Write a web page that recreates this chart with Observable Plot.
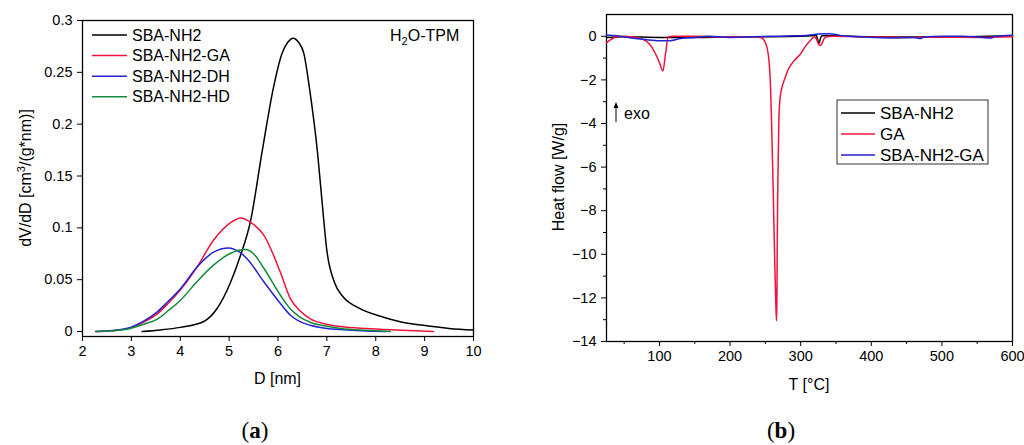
<!DOCTYPE html>
<html><head><meta charset="utf-8">
<script src="https://cdn.jsdelivr.net/npm/d3@7"></script>
<script src="https://cdn.jsdelivr.net/npm/@observablehq/plot@0.6"></script>
<style>
body{margin:0;background:#fff;}
#wrap{position:relative;width:1024px;height:445px;overflow:hidden;}
#wrap svg{position:absolute;top:0;}
</style></head><body><div id="wrap"></div>
<script>
// ---------- Panel (a): pore size distribution ----------
const seriesA = ["SBA-NH2", "SBA-NH2-GA", "SBA-NH2-DH", "SBA-NH2-HD"];
const colorsA = ["#000000", "#f0143c", "#2323d2", "#138a3c"];
const dNH2 = [3.22, 3.6, 4.0, 4.48, 4.75, 5.03, 5.23, 5.44, 5.67, 5.91, 6.08, 6.2, 6.31, 6.42, 6.53, 6.64, 6.81, 6.9, 7.0, 7.15, 7.34, 7.62, 8.16, 8.5, 8.97, 9.5, 10.0];
const vNH2 = [0, 0.0015, 0.004, 0.0097, 0.022, 0.0476, 0.073, 0.107, 0.172, 0.236, 0.268, 0.279, 0.283, 0.279, 0.268, 0.236, 0.172, 0.126, 0.078, 0.048, 0.033, 0.0235, 0.0138, 0.0095, 0.006, 0.003, 0.0015];
const dGA = [2.27, 2.6, 2.98, 3.25, 3.53, 3.75, 4.0, 4.34, 4.68, 5.03, 5.24, 5.45, 5.71, 6.05, 6.25, 6.45, 6.66, 6.95, 7.28, 7.8, 8.3, 8.8, 9.18];
const vGA = [0, 0.0008, 0.0035, 0.009, 0.017, 0.027, 0.040, 0.062, 0.088, 0.105, 0.1095, 0.105, 0.093, 0.057, 0.032, 0.02, 0.0122, 0.0075, 0.0048, 0.0028, 0.0016, 0.0008, 0];
const dDH = [2.27, 2.6, 2.98, 3.25, 3.53, 3.75, 4.0, 4.34, 4.68, 4.99, 5.2, 5.37, 5.71, 6.05, 6.25, 6.45, 6.66, 7.0, 7.28, 7.7, 8.2];
const vDH = [0, 0.0009, 0.004, 0.010, 0.019, 0.029, 0.041, 0.062, 0.0765, 0.0806, 0.077, 0.070, 0.048, 0.027, 0.016, 0.0095, 0.006, 0.003, 0.002, 0.0008, 0];
const dHD = [2.3, 2.6, 2.98, 3.25, 3.53, 3.75, 4.0, 4.34, 4.68, 5.03, 5.2, 5.33, 5.5, 5.71, 6.05, 6.25, 6.45, 6.66, 7.0, 7.28, 7.8, 8.3];
const vHD = [0, 0.0007, 0.003, 0.007, 0.012, 0.02, 0.030, 0.048, 0.064, 0.0755, 0.0785, 0.079, 0.075, 0.061, 0.035, 0.022, 0.014, 0.009, 0.005, 0.003, 0.0012, 0];
const xTicksA = [2, 3, 4, 5, 6, 7, 8, 9, 10];
const yTicksA = [0, 0.05, 0.1, 0.15, 0.2, 0.25, 0.3];

// ---------- Panel (b): DSC ----------
const seriesB = ["SBA-NH2", "GA", "SBA-NH2-GA"];
const colorsB = ["#000000", "#f0143c", "#2323d2"];
const tNH2 = [25, 50, 100, 150, 200, 250, 300, 315, 322, 324, 326, 328, 330, 350, 400, 450, 500, 550, 600];
const hNH2 = [-0.05, -0.02, -0.05, -0.05, -0.03, -0.02, 0, 0.02, 0.05, -0.15, -0.32, -0.1, 0.03, 0.02, -0.02, -0.03, -0.03, -0.01, 0.02];
const tGA = [25, 30, 35, 40, 50, 60, 70, 80, 87, 94.4, 100.5, 104.8, 108.6, 112.4, 120, 150, 200, 230, 240, 246, 250, 254, 257.3, 258.7, 261, 263, 265, 265.8, 266.4, 266.7, 267.6, 269.1, 271, 273.9, 278, 281.8, 290, 300, 307, 314, 319, 322, 325, 327.5, 330, 333, 337, 345, 400, 450, 500, 550, 600];
const hGA = [-0.3, -0.18, -0.08, -0.02, 0, -0.02, -0.08, -0.2, -0.4, -0.8, -1.25, -1.59, -0.8, -0.03, 0, 0, -0.03, -0.02, -0.03, -0.1, -0.3, -0.8, -2.3, -3.85, -6.9, -10.0, -12.5, -13.05, -12.0, -10.0, -6.9, -3.85, -2.8, -2.3, -1.9, -1.56, -1.15, -0.8, -0.45, -0.18, -0.03, -0.1, -0.35, -0.42, -0.35, -0.12, -0.02, 0, -0.03, -0.05, -0.04, -0.05, -0.02];
const tSG = [25, 40, 60, 80, 100, 115, 130, 150, 170, 200, 230, 260, 290, 310, 325, 340, 350, 360, 380, 400, 430, 460, 470, 475, 500, 530, 550, 570, 575, 600];
const hSG = [0.06, 0.02, -0.08, -0.15, -0.2, -0.2, -0.1, -0.05, 0, -0.05, -0.02, 0, 0.02, 0.05, 0.1, 0.12, 0.08, 0.02, -0.02, -0.05, -0.08, -0.05, -0.1, -0.03, 0, 0, -0.03, -0.08, 0, 0.05];
const xTicksB = [100, 200, 300, 400, 500, 600];
const xMinorB = [50, 150, 250, 350, 450, 550];
const yTicksB = [0, -2, -4, -6, -8, -10, -12, -14];
const yMinorB = [-1, -3, -5, -7, -9, -11, -13];

const FONT = "'Liberation Sans', Arial, Helvetica, sans-serif";
const pts = (xs, ys) => xs.map((x, i) => ({x, y: ys[i]}));
const lineOpts = (c) => ({x: "x", y: "y", stroke: c, strokeWidth: 1.5, curve: "monotone-x"});

const plotA = Plot.plot({
  width: 512, height: 445,
  marginLeft: 82, marginRight: 39, marginTop: 20, marginBottom: 109,
  style: {fontFamily: FONT, fontSize: "14.5px", color: "#000", background: "transparent", overflow: "visible"},
  x: {domain: [2, 10]},
  y: {domain: [-0.0048, 0.3]},
  marks: [
    Plot.axisX(xTicksA, {tickSize: 5, tickPadding: 4, label: null}),
    Plot.axisY(yTicksA, {tickSize: 5, tickPadding: 5, tickFormat: d3.format("~g"), label: null}),
    Plot.frame({stroke: "#000", strokeWidth: 1.3}),
    Plot.line(pts(dNH2, vNH2), lineOpts(colorsA[0])),
    Plot.line(pts(dGA, vGA), lineOpts(colorsA[1])),
    Plot.line(pts(dDH, vDH), lineOpts(colorsA[2])),
    Plot.line(pts(dHD, vHD), lineOpts(colorsA[3]))
  ]
});

const plotB = Plot.plot({
  width: 512, height: 445,
  marginLeft: 94, marginRight: 12, marginTop: 14, marginBottom: 104,
  style: {fontFamily: FONT, fontSize: "14.5px", color: "#000", background: "transparent", overflow: "visible"},
  x: {domain: [25, 600]},
  y: {domain: [-14, 1]},
  marks: [
    Plot.axisX(xTicksB, {tickSize: 5, tickPadding: 4, label: null}),
    Plot.axisX(xMinorB, {tickSize: 3, tickFormat: () => "", label: null}),
    Plot.axisY(yTicksB, {tickSize: 5, tickPadding: 5, label: null}),
    Plot.axisY(yMinorB, {tickSize: 3, tickFormat: () => "", label: null}),
    Plot.frame({stroke: "#000", strokeWidth: 1.3}),
    Plot.line(pts(tNH2, hNH2), lineOpts(colorsB[0])),
    Plot.line(pts(tGA, hGA), lineOpts(colorsB[1])),
    Plot.line(pts(tSG, hSG), lineOpts(colorsB[2]))
  ]
});

const wrap = document.getElementById("wrap");
plotA.style.left = "0px";
plotB.style.left = "512px";
wrap.appendChild(plotA);
wrap.appendChild(plotB);

// ---------- annotations (a) ----------
const sa = d3.select(plotA).append("g").attr("font-family", FONT).attr("fill", "#000").attr("text-anchor", "start");
seriesA.forEach((s, i) => {
  const y = 35 + i * 20.6;
  sa.append("line").attr("x1", 92).attr("x2", 127).attr("y1", y).attr("y2", y)
    .attr("stroke", colorsA[i]).attr("stroke-width", 1.5);
  sa.append("text").attr("x", 132).attr("y", y).attr("dy", "0.35em").attr("font-size", 16).attr("text-anchor", "start").text(s);
});
const h2o = sa.append("text").attr("x", 390).attr("y", 35).attr("dy", "0.35em").attr("font-size", 16).attr("text-anchor", "start");
h2o.append("tspan").text("H");
h2o.append("tspan").attr("font-size", 11).attr("dy", 4).text("2");
h2o.append("tspan").attr("dy", -4).text("O-TPM");
sa.append("text").attr("x", 277.5).attr("y", 384).attr("text-anchor", "middle").attr("font-size", 16).text("D [nm]");
const yl = sa.append("text").attr("transform", "translate(25,178) rotate(-90)").attr("text-anchor", "middle")
  .attr("dy", "0.35em").attr("font-size", 16);
yl.append("tspan").text("dV/dD [cm");
yl.append("tspan").attr("font-size", 11).attr("dy", -6).text("3");
yl.append("tspan").attr("dy", 6).text("/(g*nm)]");
const la = sa.append("text").attr("x", 255).attr("y", 438).attr("text-anchor", "middle")
  .attr("font-family", "'Liberation Serif', 'DejaVu Serif', serif").attr("font-size", 23);
la.append("tspan").text("(");
la.append("tspan").attr("font-weight", "bold").text("a");
la.append("tspan").text(")");

// ---------- annotations (b) ----------
const sb = d3.select(plotB).append("g").attr("font-family", FONT).attr("fill", "#000").attr("text-anchor", "start");
sb.append("rect").attr("x", 325).attr("y", 100).attr("width", 151).attr("height", 64)
  .attr("fill", "#fff").attr("stroke", "#333").attr("stroke-width", 1);
seriesB.forEach((s, i) => {
  const y = 113 + i * 21;
  sb.append("line").attr("x1", 329).attr("x2", 363).attr("y1", y).attr("y2", y)
    .attr("stroke", colorsB[i]).attr("stroke-width", 1.5);
  sb.append("text").attr("x", 368).attr("y", y).attr("dy", "0.35em").attr("font-size", 17).attr("text-anchor", "start").text(s);
});
sb.append("line").attr("x1", 104).attr("x2", 104).attr("y1", 122).attr("y2", 106).attr("stroke", "#000").attr("stroke-width", 1);
sb.append("path").attr("d", "M104,102 L101.5,108 L106.5,108 Z").attr("fill", "#000");
sb.append("text").attr("x", 112).attr("y", 113).attr("dy", "0.35em").attr("font-size", 16).attr("text-anchor", "start").text("exo");
sb.append("text").attr("x", 297).attr("y", 390).attr("text-anchor", "middle").attr("font-size", 16).text("T [°C]");
sb.append("text").attr("transform", "translate(46,177) rotate(-90)").attr("text-anchor", "middle")
  .attr("dy", "0.35em").attr("font-size", 16).text("Heat flow [W/g]");
const lb = sb.append("text").attr("x", 269).attr("y", 438).attr("text-anchor", "middle")
  .attr("font-family", "'Liberation Serif', 'DejaVu Serif', serif").attr("font-size", 23);
lb.append("tspan").text("(");
lb.append("tspan").attr("font-weight", "bold").text("b");
lb.append("tspan").text(")");
</script></body></html>
